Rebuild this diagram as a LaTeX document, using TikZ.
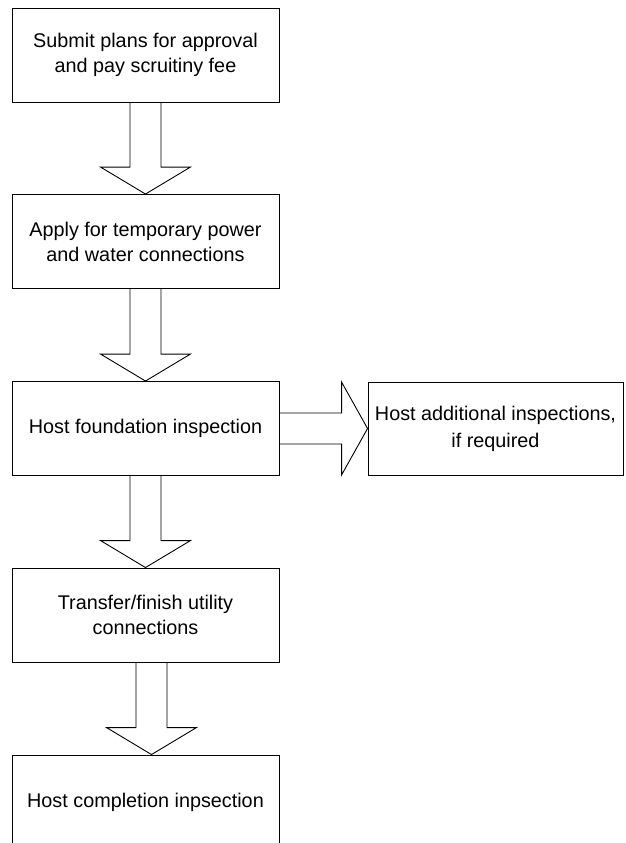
\documentclass[tikz,border=0pt]{standalone}
\usepackage{fontspec}
\setmainfont{Liberation Sans}
\usetikzlibrary{calc}
\tikzset{
  stepbox/.style={draw=black, line width=0.9pt, fill=white, rectangle, minimum width=267pt, minimum height=94pt, inner sep=0pt, align=center, font=\fontsize{19.8}{25}\selectfont},
  sidebox/.style={stepbox, minimum width=255pt, minimum height=93pt, font=\fontsize{19.8}{27}\selectfont},
  blk/.style={draw=black, line width=0.9pt, line join=miter}
}
\newcommand\downarrowblk[3]{%
  \draw[blk] let \p1=(#1.south), \p2=(#2.north) in
    (\x1+#3-15.5pt,\y1) -- (\x1+#3-15.5pt,\y2+27pt) -- (\x1+#3-45pt,\y2+27pt)
    -- (\x1+#3,\y2) -- (\x1+#3+45pt,\y2+27pt) -- (\x1+#3+15.5pt,\y2+27pt)
    -- (\x1+#3+15.5pt,\y1);}
\begin{document}
\begin{tikzpicture}[x=1pt,y=-1pt]
\useasboundingbox (0,0) rectangle (626,843);
\clip (0,0) rectangle (626,843);
\node[stepbox] (b1) at (145.5,55) {Submit plans for approval\\and pay scruitiny fee};
\node[stepbox] (b2) at (145.5,241.5) {Apply for temporary power\\and water connections};
\node[stepbox] (b3) at (145.5,428.5) {Host foundation inspection};
\node[stepbox] (b4) at (145.5,615) {Transfer/finish utility\\connections};
\node[stepbox] (b5) at (145.5,802) {Host completion inpsection};
\node[sidebox] (r) at (495.5,428.5) {Host additional inspections,\\if required};
\downarrowblk{b1}{b2}{0pt}
\downarrowblk{b2}{b3}{0pt}
\downarrowblk{b3}{b4}{0pt}
\downarrowblk{b4}{b5}{6pt}
\draw[blk] let \p1=(b3.east), \p2=(r.west) in
  (\x1,\y1+15.5pt) -- (\x2-26pt,\y1+15.5pt) -- (\x2-26pt,\y1+46.5pt)
  -- (\x2,\y1) -- (\x2-26pt,\y1-46.5pt) -- (\x2-26pt,\y1-15.5pt) -- (\x1,\y1-15.5pt);
\end{tikzpicture}
\end{document}
